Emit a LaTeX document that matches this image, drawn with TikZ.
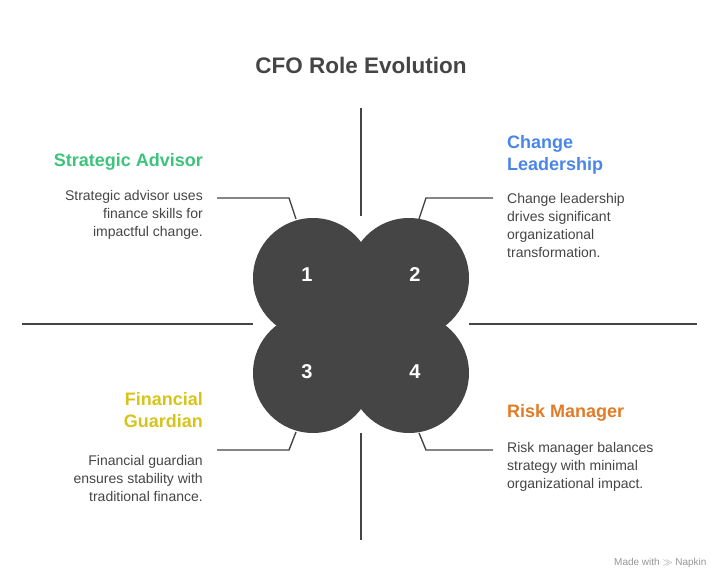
\documentclass[tikz,border=0pt]{standalone}
\usepackage{fontspec}
\setmainfont{Liberation Sans}
\usetikzlibrary{positioning}
\definecolor{mydark}{RGB}{69,69,69}
\definecolor{mygreen}{RGB}{60,196,124}
\definecolor{myblue}{RGB}{74,134,232}
\definecolor{myyellow}{RGB}{214,196,26}
\definecolor{myorange}{RGB}{224,123,40}
\definecolor{mygray}{RGB}{150,150,150}
\tikzset{
  petal/.style={circle,fill=mydark,minimum size=120pt,inner sep=0pt},
  num/.style={text=white,font=\fontsize{20}{24}\selectfont\bfseries},
  rule/.style={draw=mydark,line width=1.4pt},
  head/.style={font=\fontsize{18}{22}\selectfont\bfseries,inner sep=0pt},
  body/.style={font=\fontsize{14}{18}\selectfont,text=mydark,inner sep=0pt}
}
\begin{document}
\begin{tikzpicture}[x=1pt,y=-1pt]
\useasboundingbox (0,0) rectangle (721,588);
% title
\node[font=\fontsize{22.5}{26}\selectfont\bfseries,text=mydark] (title) at (361,65) {CFO Role Evolution};
% axes
\draw[rule] (361,108) -- (361,216);
\draw[rule] (361,433) -- (361,540);
\draw[rule] (22,324) -- (253,324);
\draw[rule] (469,324) -- (697,324);
% petals
\node[petal] (p1) at (313,278) {};
\node[petal] (p2) at (409,278) {};
\node[petal] (p3) at (313,373) {};
\node[petal] (p4) at (409,373) {};
\fill[mydark] (p1.center) rectangle (p4.center);
\node[num] at (307,275) {1};
\node[num] at (415,275) {2};
\node[num] at (307,372) {3};
\node[num] at (415,372) {4};
% leaders
\coordinate (a1) at (217,198);
\coordinate (a2) at (493,198);
\coordinate (a3) at (217,450);
\coordinate (a4) at (493,450);
\draw[rule] (a1) -- (289,198) -- (296,219);
\draw[rule] (a2) -- (426,198) -- (419,219);
\draw[rule] (a3) -- (289,450) -- (296,432);
\draw[rule] (a4) -- (426,450) -- (419,433);
% labels
\node[head,text=mygreen,anchor=east] (h1) at (203,162) {Strategic Advisor};
\node[body,anchor=north east,align=right] (t1) at (203,190) {Strategic advisor uses\\finance skills for\\impactful change.};
\node[head,text=myblue,anchor=north west,align=left] (h2) at (507,135) {Change\\Leadership};
\node[body,anchor=north west,align=left] (t2) at (507,193) {Change leadership\\drives significant\\organizational\\transformation.};
\node[head,text=myyellow,anchor=north east,align=right] (h3) at (203,392) {Financial\\Guardian};
\node[body,anchor=north east,align=right] (t3) at (203,455) {Financial guardian\\ensures stability with\\traditional finance.};
\node[head,text=myorange,anchor=west] (h4) at (507,413) {Risk Manager};
\node[body,anchor=north west,align=left] (t4) at (507,442) {Risk manager balances\\strategy with minimal\\organizational impact.};
\node[font=\fontsize{10}{12}\selectfont,text=mygray,anchor=east] (mark) at (710,563) {Made with $\gg$ Napkin};
\end{tikzpicture}
\end{document}
